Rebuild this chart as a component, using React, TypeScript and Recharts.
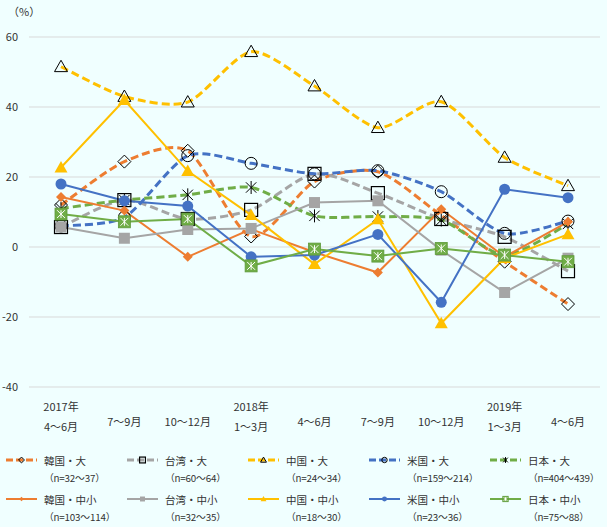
import React from "react";
import { CartesianGrid, Line, LineChart, XAxis, YAxis } from "recharts";

// x axis: year line (only on some ticks) + quarter line
const tickYears = ["2017年", "", "", "2018年", "", "", "", "2019年", ""];
const tickQuarters = ["4～6月", "7～9月", "10～12月", "1～3月", "4～6月", "7～9月", "10～12月", "1～3月", "4～6月"];
const yTicks = [-40, -20, 0, 20, 40, 60];

// series values (%)
const korLarge = [12, 24.4, 27.5, 3, 18.7, 21.5, 9, -4.2, -16.3];
const twLarge = [5.7, 13.4, 8, 10.6, 20.9, 15.4, 8, 2.9, -6.9];
const chnLarge = [51.5, 43, 41.4, 55.8, 46, 34.1, 41.5, 25.6, 17.5];
const usLarge = [6, 8.5, 26.1, 23.9, 20.9, 21.8, 15.8, 3.9, 7.4];
const jpLarge = [11, 13.4, 14.9, 17, 8.9, 8.7, 7.7, -2.3, 6.6];
const korSme = [14.3, 10.4, -2.8, 5.1, -1.5, -7.3, 10.8, -2.8, 7.2];
const twSme = [5.7, 2.5, 5, 5.3, 12.7, 13.2, -0.9, -13, -3.2];
const chnSme = [22.7, 42, 21.7, 9.1, -4.9, 7.9, -21.8, -3.2, 3.6];
const usSme = [18, 13.2, 11.7, -2.8, -2.3, 3.6, -15.8, 16.5, 14.1];
const jpSme = [9.4, 7.2, 8, -5.4, -0.6, -2.6, -0.4, -2.3, -4.2];

const seriesNames = ["韓国・大", "台湾・大", "中国・大", "米国・大", "日本・大", "韓国・中小", "台湾・中小", "中国・中小", "米国・中小", "日本・中小"];
const sampleSizes = ["（n=32～37）", "（n=60～64）", "（n=24～34）", "（n=159～214）", "（n=404～439）", "（n=103～114）", "（n=32～35）", "（n=18～30）", "（n=23～36）", "（n=75～88）"];
const seriesValues = [korLarge, twLarge, chnLarge, usLarge, jpLarge, korSme, twSme, chnSme, usSme, jpSme];

const colors = ["#ED7D31", "#A5A5A5", "#FFC000", "#4472C4", "#70AD47"];
const markerKinds = ["diamondOpen", "squareOpen", "triangleOpen", "circleOpen", "star", "diamond", "square", "triangle", "circle", "squareStar"];

const FONT = '"Noto Sans CJK JP", "Noto Sans", sans-serif';
const BG = "#F0FFFF";

const data = tickQuarters.map((q, i) => {
  const row: Record<string, any> = { idx: i, q };
  seriesValues.forEach((vals, s) => (row["s" + s] = vals[i]));
  return row;
});

// Excel-like smoothed line (softened Catmull-Rom through the points)
const smooth = (context: any) => {
  let pts: number[][] = [];
  const t = 1 / 8;
  return {
    areaStart() {},
    areaEnd() {},
    lineStart() {
      pts = [];
    },
    point(x: number, y: number) {
      pts.push([+x, +y]);
    },
    lineEnd() {
      const n = pts.length;
      if (!n) return;
      context.moveTo(pts[0][0], pts[0][1]);
      for (let i = 0; i < n - 1; i++) {
        const p0 = pts[Math.max(i - 1, 0)];
        const p1 = pts[i];
        const p2 = pts[i + 1];
        const p3 = pts[Math.min(i + 2, n - 1)];
        context.bezierCurveTo(
          p1[0] + (p2[0] - p0[0]) * t,
          p1[1] + (p2[1] - p0[1]) * t,
          p2[0] - (p3[0] - p1[0]) * t,
          p2[1] - (p3[1] - p1[1]) * t,
          p2[0],
          p2[1]
        );
      }
    },
  };
};

function Marker({ kind, cx, cy, color, s = 1 }: { kind: string; cx: number; cy: number; color: string; s?: number }) {
  const k = "#000";
  switch (kind) {
    case "diamondOpen": {
      const r = 6.5 * s;
      return <polygon points={`${cx},${cy - r} ${cx + r},${cy} ${cx},${cy + r} ${cx - r},${cy}`} fill="none" stroke={k} strokeWidth={1} />;
    }
    case "squareOpen": {
      const r = 6.5 * s;
      return <rect x={cx - r} y={cy - r} width={2 * r} height={2 * r} fill="none" stroke={k} strokeWidth={1.2} />;
    }
    case "triangleOpen": {
      const r = 6.5 * s;
      return <polygon points={`${cx},${cy - r} ${cx + r},${cy + r * 0.75} ${cx - r},${cy + r * 0.75}`} fill="none" stroke={k} strokeWidth={1} />;
    }
    case "circleOpen":
      return <circle cx={cx} cy={cy} r={6 * s} fill="none" stroke={k} strokeWidth={1} />;
    case "star": {
      const r = 6.5 * s;
      const d = r * 0.8;
      return (
        <g stroke={k} strokeWidth={1}>
          <line x1={cx} y1={cy - r} x2={cx} y2={cy + r} />
          <line x1={cx - d} y1={cy - d} x2={cx + d} y2={cy + d} />
          <line x1={cx - d} y1={cy + d} x2={cx + d} y2={cy - d} />
        </g>
      );
    }
    case "diamond": {
      const r = 5 * s;
      return <polygon points={`${cx},${cy - r} ${cx + r},${cy} ${cx},${cy + r} ${cx - r},${cy}`} fill={color} />;
    }
    case "square": {
      const r = 5.5 * s;
      return <rect x={cx - r} y={cy - r} width={2 * r} height={2 * r} fill={color} />;
    }
    case "triangle": {
      const r = 6.5 * s;
      return <polygon points={`${cx},${cy - r} ${cx + r},${cy + r * 0.75} ${cx - r},${cy + r * 0.75}`} fill={color} />;
    }
    case "circle":
      return <circle cx={cx} cy={cy} r={5.5 * s} fill={color} />;
    case "squareStar": {
      const r = 6 * s;
      const d = r * 0.65;
      return (
        <g>
          <rect x={cx - r} y={cy - r} width={2 * r} height={2 * r} fill={color} stroke="#5E9A3A" strokeWidth={0.8} />
          <g stroke="#fff" strokeWidth={1}>
            <line x1={cx} y1={cy - d} x2={cx} y2={cy + d} />
            <line x1={cx - d} y1={cy - d} x2={cx + d} y2={cy + d} />
            <line x1={cx - d} y1={cy + d} x2={cx + d} y2={cy - d} />
          </g>
        </g>
      );
    }
  }
  return null;
}

function XTick({ x, y, payload }: any) {
  const i = payload.index ?? payload.value;
  const yr = tickYears[i];
  const qt = tickQuarters[i];
  const common = { x, textAnchor: "middle" as const, fontSize: 11, fill: "#333", fontFamily: FONT };
  if (yr) {
    return (
      <g>
        <text {...common} y={y + 16}>{yr}</text>
        <text {...common} y={y + 36}>{qt}</text>
      </g>
    );
  }
  return (
    <text {...common} y={y + 31}>
      {qt}
    </text>
  );
}

function LegendSample({ i }: { i: number }) {
  const color = colors[i % 5];
  const dashed = i < 5;
  return (
    <svg width={31} height={10} style={{ display: "block", flex: "none" }}>
      <line x1={0} y1={5} x2={31} y2={5} stroke={color} strokeWidth={dashed ? 3 : 2} strokeDasharray={dashed ? "7 3" : undefined} />
      <Marker kind={markerKinds[i]} cx={15.5} cy={5} color={color} s={0.45} />
    </svg>
  );
}

export default function App() {
  return (
    <div style={{ position: "absolute", left: 0, top: 0, width: 607, height: 527, background: BG, fontFamily: FONT, overflow: "hidden" }}>
      <div style={{ position: "absolute", left: 8, top: 3, fontSize: 11, color: "#333" }}>（%）</div>
      <LineChart width={607} height={527} data={data} margin={{ top: 37, right: 7, left: 0, bottom: 100 }}>
        <CartesianGrid vertical={false} stroke="#D9D9D9" />
        <XAxis dataKey="idx" type="category" height={40} axisLine={false} tickLine={false} tick={<XTick />} padding={{ left: 32, right: 32 }} interval={0} />
        <YAxis
          width={29}
          domain={[-40, 60]}
          ticks={yTicks}
          axisLine={false}
          tickLine={false}
          tickMargin={5}
          tick={{ fontSize: 11, fill: "#333", fontFamily: FONT }}
        />
        {seriesValues.map((_, s) => {
          const color = colors[s % 5];
          const dashed = s < 5;
          return (
            <Line
              key={s}
              dataKey={"s" + s}
              stroke={color}
              strokeWidth={dashed ? 3 : 2}
              strokeDasharray={dashed ? "8 4" : undefined}
              type={dashed ? (smooth as any) : "linear"}
              isAnimationActive={false}
              activeDot={false}
              dot={(p: any) => <Marker key={`m${s}-${p.index}`} kind={markerKinds[s]} cx={p.cx} cy={p.cy} color={color} />}
            />
          );
        })}
      </LineChart>
      <div style={{ position: "absolute", left: 6, top: 451, display: "grid", gridTemplateColumns: "repeat(5, 121px)", fontSize: 10.5, color: "#333" }}>
        {seriesNames.map((name, i) => (
          <div key={name} style={{ height: 39 }}>
            <div style={{ display: "flex", alignItems: "center", height: 18, whiteSpace: "nowrap" }}>
              <LegendSample i={i} />
              <span style={{ marginLeft: 7 }}>{name}</span>
            </div>
            <div style={{ height: 18, lineHeight: "18px", marginLeft: 38, fontSize: 9.8, letterSpacing: -0.2, whiteSpace: "nowrap" }}>{sampleSizes[i]}</div>
          </div>
        ))}
      </div>
    </div>
  );
}
